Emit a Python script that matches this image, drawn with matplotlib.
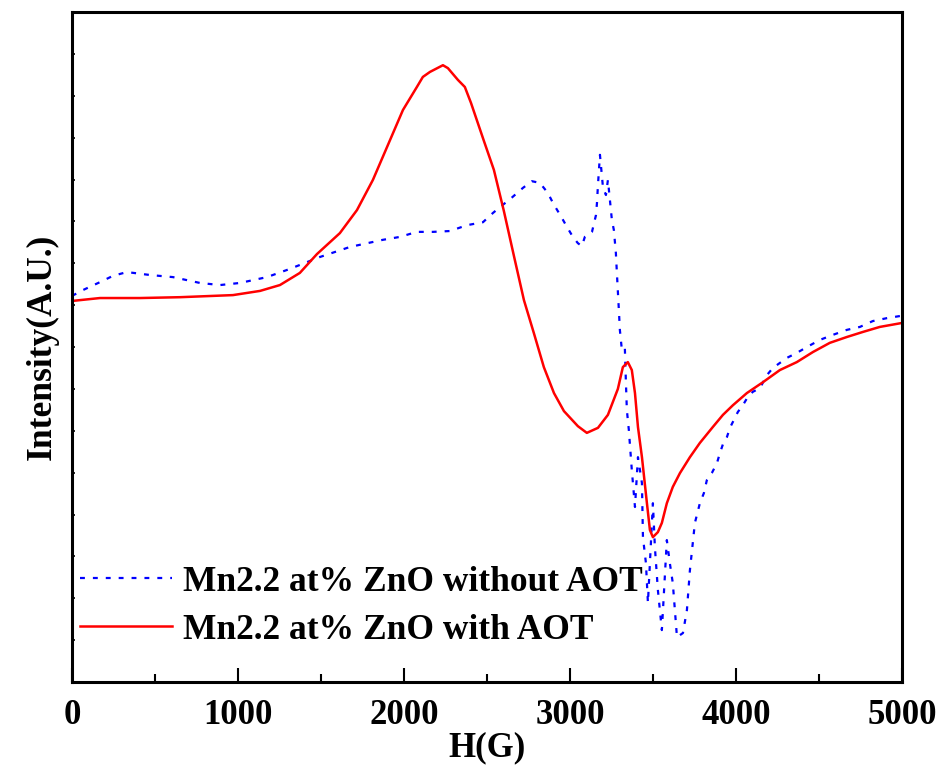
import matplotlib
matplotlib.use("Agg")
from matplotlib import pyplot as plt

# field (G) and intensity (a.u.)
h_without = [0, 66, 169, 247, 331, 470, 608, 771, 892, 1012, 1175, 1295, 1373, 1494,
             1675, 1873, 1976, 2078, 2175, 2277, 2380, 2476, 2536, 2578, 2639, 2717,
             2771, 2819, 2867, 2898, 2952, 2982, 3018, 3048, 3072, 3090, 3120, 3133,
             3157, 3163, 3169, 3181, 3199, 3217, 3229, 3241, 3253, 3265, 3277, 3283,
             3295, 3301, 3313, 3331, 3337, 3343, 3355, 3373, 3392, 3410, 3434, 3440,
             3458, 3470, 3500, 3512, 3530, 3554, 3584, 3602, 3620, 3645, 3681, 3705,
             3723, 3753, 3783, 3807, 3825, 3855, 3886, 3904, 3922, 3946, 3964, 3988,
             4012, 4042, 4072, 4102, 4145, 4187, 4223, 4265, 4307, 4367, 4428, 4506,
             4584, 4669, 4747, 4825, 4910, 4988]
i_without = [9.22, 9.36, 9.55, 9.70, 9.79, 9.72, 9.67, 9.53, 9.48, 9.53, 9.67, 9.84, 9.96, 10.15,
             10.39, 10.56, 10.63, 10.75, 10.75, 10.77, 10.91, 10.98, 11.20, 11.34, 11.53, 11.80,
             11.96, 11.92, 11.68, 11.44, 11.08, 10.87, 10.63, 10.48, 10.41, 10.63, 10.70, 10.75,
             11.15, 11.44, 11.87, 12.59, 11.82, 11.63, 11.99, 11.51, 11.03, 10.79, 10.24, 9.77,
             8.88, 8.41, 7.93, 7.98, 7.21, 6.50, 6.02, 5.06, 4.18, 5.37, 4.75, 3.46,
             2.84, 1.89, 4.27, 3.22, 2.20, 1.24, 3.39, 2.84, 2.36, 1.07, 1.17, 1.72,
             2.67, 3.80, 4.27, 4.51, 4.82, 4.99, 5.23, 5.47, 5.68, 5.85, 6.07, 6.26,
             6.45, 6.61, 6.81, 6.93, 7.02, 7.33, 7.50, 7.62, 7.74, 7.86, 8.00, 8.17,
             8.29, 8.41, 8.48, 8.62, 8.69, 8.74]

h_with = [0, 169, 410, 651, 970, 1133, 1253, 1373, 1476, 1614, 1717, 1813, 1916, 1994,
          2078, 2114, 2157, 2235, 2265, 2325, 2367, 2404, 2482, 2542, 2602, 2663,
          2723, 2783, 2843, 2904, 2964, 3048, 3102, 3169, 3229, 3289, 3319, 3349, 3373,
          3392, 3410, 3434, 3464, 3482, 3500, 3530, 3554, 3584, 3620, 3663, 3723, 3783,
          3861, 3922, 3982, 4066, 4163, 4265, 4367, 4464, 4566, 4669, 4765, 4867, 4994]
i_with = [9.10, 9.17, 9.17, 9.19, 9.24, 9.34, 9.48, 9.77, 10.22, 10.72, 11.27, 11.99, 12.94, 13.66,
          14.21, 14.45, 14.57, 14.73, 14.66, 14.38, 14.21, 13.83, 12.92, 12.23, 11.25, 10.17,
          9.12, 8.33, 7.52, 6.90, 6.47, 6.11, 5.95, 6.07, 6.38, 7.00, 7.52, 7.64, 7.45,
          6.90, 6.09, 5.37, 4.27, 3.63, 3.46, 3.58, 3.80, 4.27, 4.66, 4.99, 5.37, 5.71,
          6.09, 6.38, 6.61, 6.90, 7.16, 7.45, 7.64, 7.88, 8.10, 8.24, 8.36, 8.48, 8.57]

labels = ["Mn2.2 at% ZnO without AOT", "Mn2.2 at% ZnO with AOT"]

plt.rcParams['font.family'] = ['Liberation Serif', 'DejaVu Serif']
plt.rcParams['font.weight'] = 'bold'

fig = plt.figure(figsize=(9.42, 7.71), dpi=100)
ax = fig.add_axes([0.0764, 0.1154, 0.881, 0.869])

ax.plot(h_without, i_without, color="blue", lw=1.6, linestyle=(0, (2.2, 3.6)), label=labels[0])
ax.plot(h_with, i_with, color="red", lw=1.8, label=labels[1])

ax.set_xlim(0, 5000)
ax.set_ylim(0, 16)
ax.set_xticks(range(0, 5001, 1000))
ax.set_xticks(range(500, 5000, 1000), minor=True)
ax.set_yticks(range(1, 16))
ax.set_yticklabels([])
ax.tick_params(axis='x', which='major', direction='in', length=10, width=1.5, labelsize=25, pad=12)
ax.tick_params(axis='x', which='minor', direction='in', length=6, width=1.5)
ax.tick_params(axis='y', which='major', direction='in', length=2, width=1.2)
for s in ax.spines.values():
    s.set_linewidth(2.2)

ax.set_xlabel("H(G)", fontsize=25, fontweight='bold', labelpad=0)
ax.set_ylabel("Intensity(A.U.)", fontsize=25.5, fontweight='bold', labelpad=6)

ax.legend(loc='center left', bbox_to_anchor=(0.01, 0.113), frameon=False,
          fontsize=25.5, handlelength=2.6, handletextpad=0.3, labelspacing=0.42,
          borderaxespad=0, borderpad=0)

fig.savefig("out.png", dpi=100)
